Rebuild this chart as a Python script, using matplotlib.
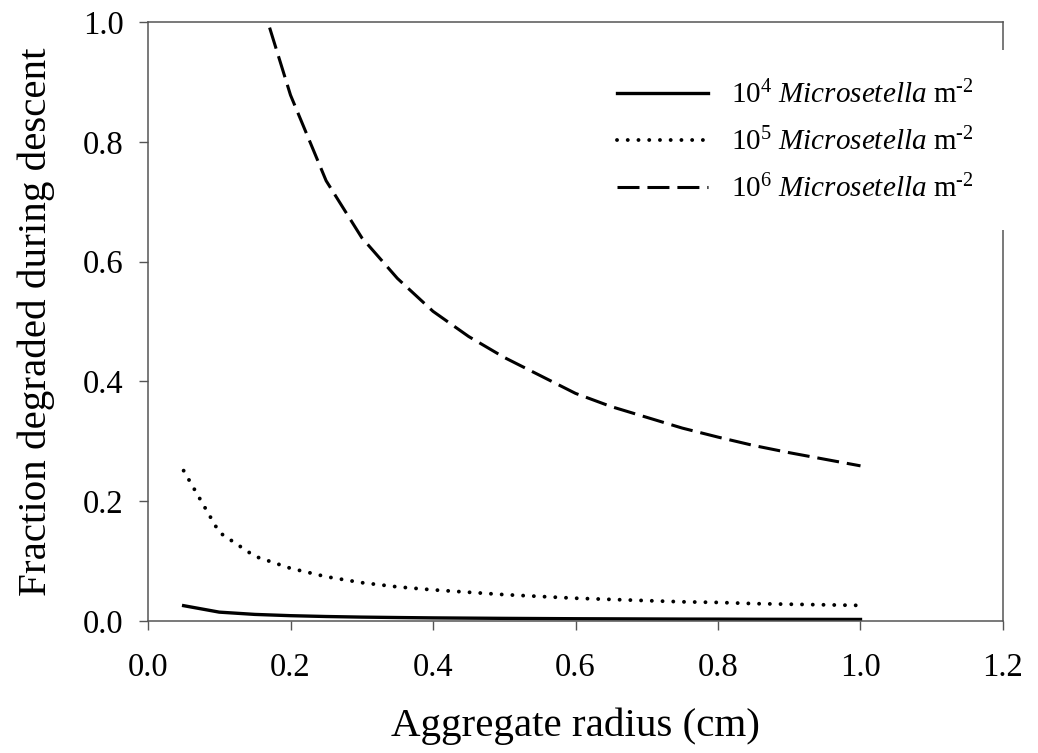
import matplotlib
matplotlib.use('Agg')
import matplotlib.pyplot as plt
from matplotlib.patches import Rectangle

# aggregate radius (cm)
radius = [0.05, 0.10, 0.15, 0.20, 0.25, 0.30, 0.35, 0.40, 0.45, 0.50,
          0.55, 0.60, 0.65, 0.70, 0.75, 0.80, 0.85, 0.90, 0.95, 1.00]

# fraction degraded during descent
frac_1e4 = [0.0256, 0.0148, 0.0110, 0.0089, 0.0075, 0.0065, 0.0058, 0.0052, 0.0048, 0.0044,
            0.0041, 0.0038, 0.0036, 0.0034, 0.0032, 0.0031, 0.0029, 0.0028, 0.0027, 0.0026]
frac_1e5 = [0.251, 0.148, 0.108, 0.088, 0.074, 0.064, 0.057, 0.052, 0.048, 0.044,
            0.041, 0.038, 0.036, 0.034, 0.032, 0.031, 0.029, 0.028, 0.027, 0.026]
frac_1e6 = [2.45, 1.45, 1.07, 0.878, 0.735, 0.640, 0.572, 0.517, 0.475, 0.440,
            0.410, 0.380, 0.358, 0.340, 0.322, 0.307, 0.293, 0.281, 0.270, 0.259]

labels = ['10$^{4}$ $\\mathit{Microsetella}$ m$^{\u20102}$',
          '10$^{5}$ $\\mathit{Microsetella}$ m$^{\u20102}$',
          '10$^{6}$ $\\mathit{Microsetella}$ m$^{\u20102}$']

plt.rcParams['font.family'] = ['Liberation Serif', 'DejaVu Serif']
plt.rcParams['mathtext.fontset'] = 'custom'
plt.rcParams['mathtext.rm'] = 'Liberation Serif'
plt.rcParams['mathtext.it'] = 'Liberation Serif:italic'

fig = plt.figure(figsize=(10.38, 7.53), dpi=100)
ax = fig.add_axes([148/1038, 132/753, 855/1038, 599/753])

ax.plot(radius, frac_1e4, color='black', lw=2.4, ls='-', label=labels[0])
ax.plot(radius, frac_1e5, color='black', lw=2.8, ls=(0, (0.01, 2.75)),
        dash_capstyle='round', label=labels[1])
ax.plot(radius, frac_1e6, color='black', lw=2.2, ls=(0, (7.2, 2.6)), label=labels[2])

ax.set_xlim(0, 1.2)
ax.set_ylim(0, 1.0)
ax.set_xticks([0.0, 0.2, 0.4, 0.6, 0.8, 1.0, 1.2])
ax.set_yticks([0.0, 0.2, 0.4, 0.6, 0.8, 1.0])
ax.set_xticklabels(['%.1f' % v for v in ax.get_xticks()])
ax.set_yticklabels(['%.1f' % v for v in ax.get_yticks()])

for s in ax.spines.values():
    s.set_color('#555555')
    s.set_linewidth(1.1)
ax.tick_params(direction='out', length=6.5, width=1.0, color='#555555', labelsize=23.5)
ax.tick_params(axis='x', pad=16)
ax.tick_params(axis='y', pad=11)

ax.set_xlabel('Aggregate radius (cm)', fontsize=29.5)
ax.set_ylabel('Fraction degraded during descent', fontsize=29.5)
ax.xaxis.set_label_coords(0.5, -0.1436)
ax.yaxis.set_label_coords(-0.109, 0.5)

# legend (no frame), white block hides the right spine behind it
leg = ax.legend(loc='upper left', bbox_to_anchor=(617/1038, 672/753),
                bbox_transform=fig.transFigure, fontsize=21, frameon=False,
                handlelength=3.12, handletextpad=0.79, labelspacing=0.63,
                borderpad=0, borderaxespad=0)
ax.add_patch(Rectangle((995/1038, 523/753), 17/1038, 180/753, transform=fig.transFigure,
                       facecolor='white', edgecolor='none', clip_on=False, zorder=3))

plt.savefig('out.png', dpi=100)
